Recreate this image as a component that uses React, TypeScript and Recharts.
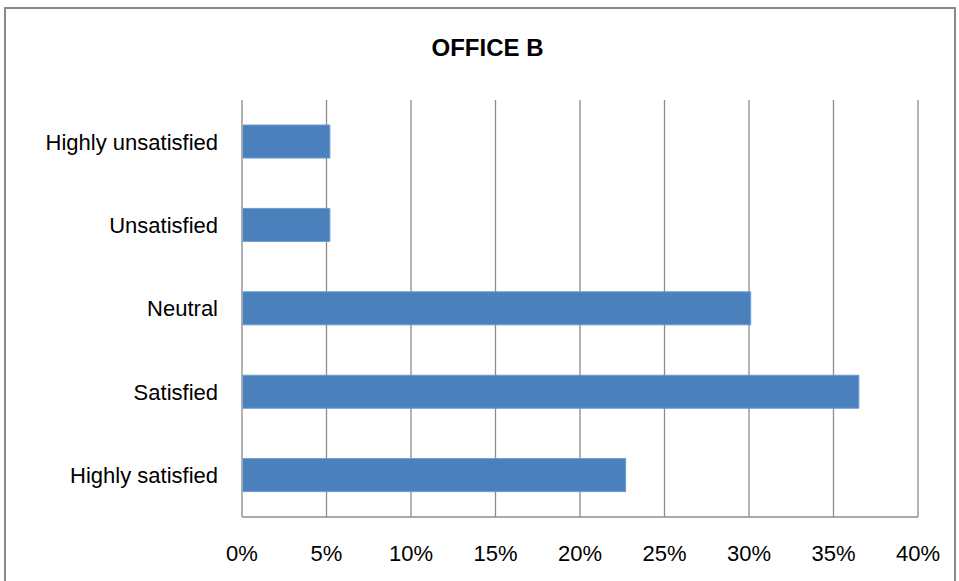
import React from 'react';
import { BarChart, Bar, XAxis, YAxis, CartesianGrid } from 'recharts';

const categories = ['Highly unsatisfied', 'Unsatisfied', 'Neutral', 'Satisfied', 'Highly satisfied'];
const shares = [5.2, 5.2, 30.1, 36.5, 22.7];
const xTicks = [0, 5, 10, 15, 20, 25, 30, 35, 40];

const data = categories.map((name, i) => ({ name, value: shares[i] }));

const font = '"Liberation Sans", Arial, sans-serif';

export default function App() {
  return (
    <div style={{ position: 'absolute', left: 0, top: 0, width: 959, height: 581, background: '#fff', overflow: 'hidden', fontFamily: font }}>
      <div style={{ position: 'absolute', left: 4, top: 7, width: 952, height: 600, border: '2px solid #8a8a8a', boxSizing: 'border-box' }} />
      <div style={{ position: 'absolute', left: 0, width: 975, top: 34, textAlign: 'center', fontSize: 24, fontWeight: 'bold', color: '#000' }}>
        OFFICE B
      </div>
      <div style={{ position: 'absolute', left: 0, top: 0 }}>
        <BarChart
          width={959}
          height={581}
          data={data}
          layout="vertical"
          margin={{ top: 100, right: 41, bottom: 34, left: 0 }}
          barCategoryGap="30%"
        >
          <CartesianGrid horizontal={false} stroke="#8c8c8c" strokeWidth={1.3} />
          <XAxis
            type="number"
            domain={[0, 40]}
            ticks={xTicks}
            tickFormatter={(v) => `${v}%`}
            axisLine={{ stroke: '#8c8c8c', strokeWidth: 1.3 }}
            tickLine={false}
            tick={{ fill: '#000', fontSize: 22, fontFamily: font }}
            tickMargin={22}
            height={30}
            interval={0}
          />
          <YAxis
            type="category"
            dataKey="name"
            width={242}
            axisLine={{ stroke: '#b0b0b0', strokeWidth: 1.5 }}
            tickLine={false}
            tick={{ fill: '#000', fontSize: 22, fontFamily: font }}
            tickMargin={18}
          />
          <Bar dataKey="value" fill="#4A81BD" stroke="#6a9ad0" strokeWidth={1} isAnimationActive={false} />
        </BarChart>
      </div>
    </div>
  );
}
